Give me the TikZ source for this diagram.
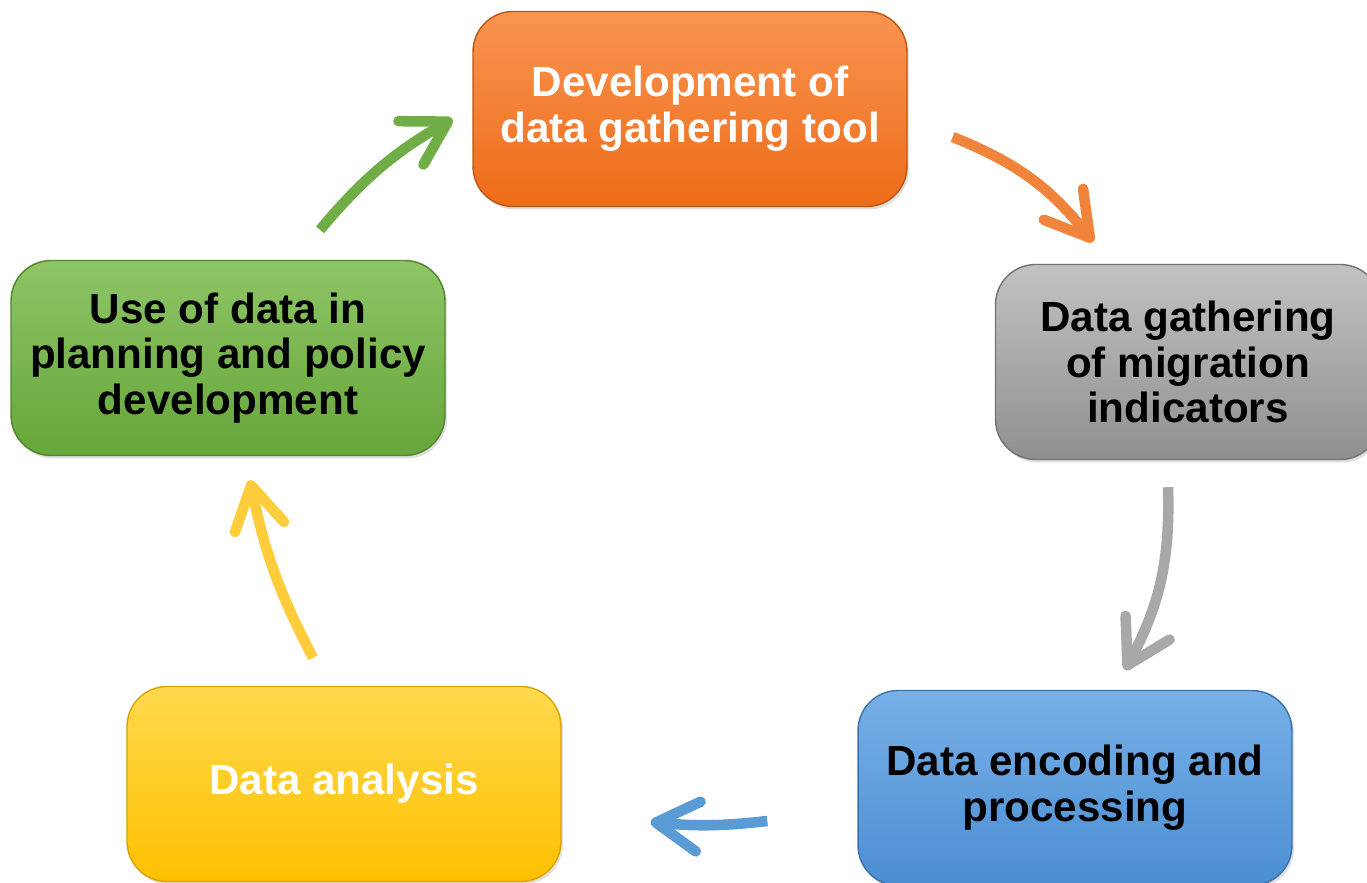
\documentclass[tikz,border=0pt]{standalone}
\usepackage{fontspec}
\setmainfont{Liberation Sans}
\usepackage{tikz}
\usetikzlibrary{arrows.meta,shadows}

\definecolor{OrangeTop}{HTML}{F99452}
\definecolor{OrangeBot}{HTML}{EE6C18}
\definecolor{GrayTop}{HTML}{C2C2C2}
\definecolor{GrayBot}{HTML}{909090}
\definecolor{BlueTop}{HTML}{78B0E8}
\definecolor{BlueBot}{HTML}{4A8ED2}
\definecolor{YellowTop}{HTML}{FFD94E}
\definecolor{YellowBot}{HTML}{FFC000}
\definecolor{GreenTop}{HTML}{8EC566}
\definecolor{GreenBot}{HTML}{66A63A}
\definecolor{OrangeArr}{HTML}{F0843C}
\definecolor{GrayArr}{HTML}{A8A8A8}
\definecolor{BlueArr}{HTML}{5B9BD5}
\definecolor{YellowArr}{HTML}{FFCD3C}
\definecolor{GreenArr}{HTML}{70AD47}

\tikzset{
  stage/.style={rectangle, rounded corners=0.8cm, minimum width=8.68cm, minimum height=3.9cm,
    align=center, font=\fontsize{24}{26}\selectfont\bfseries, line width=0.8pt,
    drop shadow={opacity=0.25, shadow xshift=0.04cm, shadow yshift=-0.06cm}},
  flow/.style={line width=6pt, -{Straight Barb[round, length=0.85cm, width=1cm]}},
}

\begin{document}
\begin{tikzpicture}[x=0.02cm, y=-0.02cm]
\useasboundingbox (0,0) rectangle (1367,883);

% Stages
\node[stage, top color=OrangeTop, bottom color=OrangeBot, draw=OrangeBot!80!black, text=white] (dev) at (690,109) {Development of\\data gathering tool};
\node[stage, minimum width=7.7cm, top color=GrayTop, bottom color=GrayBot, draw=GrayBot!80!black] (gather) at (1188,362) {Data gathering\\of migration\\indicators};
\node[stage, top color=BlueTop, bottom color=BlueBot, draw=BlueBot!80!black] (encode) at (1075,788) {Data encoding and\\processing};
\node[stage, top color=YellowTop, bottom color=YellowBot, draw=YellowBot!85!black, text=white] (analysis) at (344,784) {Data analysis};
\node[stage, top color=GreenTop, bottom color=GreenBot, draw=GreenBot!80!black] (use) at (228,358) {Use of data in\\planning and policy\\development};

% Arrows
\draw[flow, GreenArr] ([shift={(92,-30)}]use.north) to[bend left=10] ([shift={(-20,10)}]dev.west);
\draw[flow, OrangeArr] ([shift={(45,28)}]dev.east) to[bend left=15] ([shift={(-95,-22)}]gather.north);
\draw[flow, GrayArr] ([shift={(-20,27)}]gather.south) to[bend left=15] ([shift={(50,-20)}]encode.north);
\draw[flow, BlueArr] ([shift={(-90,33)}]encode.west) to[bend left=6] ([shift={(89,38)}]analysis.east);
\draw[flow, YellowArr] ([shift={(-31,-28)}]analysis.north) to[bend left=8] ([shift={(22,24)}]use.south);

\end{tikzpicture}
\end{document}
